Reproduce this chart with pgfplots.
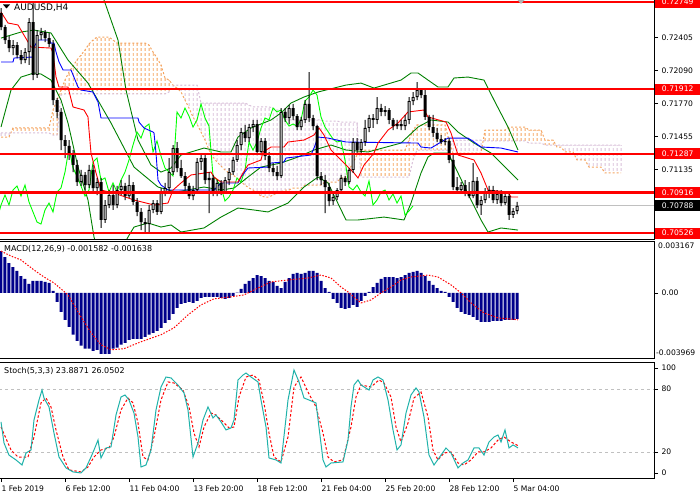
\documentclass[border=0pt]{standalone}
\usepackage{fontspec}
\setmainfont{DejaVu Sans}
\usepackage{pgfplots}
\pgfplotsset{compat=1.18}
\usepackage{pgfplotstable}
\usetikzlibrary{patterns.meta}

\definecolor{sandy}{RGB}{244,164,96}
\definecolor{thist}{RGB}{216,191,216}
\definecolor{bbgreen}{RGB}{0,128,0}
\definecolor{chik}{RGB}{0,255,0}
\definecolor{histnavy}{RGB}{0,0,139}
\definecolor{stteal}{RGB}{32,178,170}
\definecolor{pline}{RGB}{192,192,192}

% AUDUSD H4 candles: bar, open, high, low, close
\pgfplotstableread{
i o h l c
0 0.72643 0.72691 0.72479 0.72508
1 0.72508 0.72528 0.72345 0.72383
2 0.72383 0.72422 0.72268 0.72306
3 0.72306 0.72383 0.72239 0.72335
4 0.72335 0.72364 0.72210 0.72239
5 0.72239 0.72287 0.72152 0.72191
6 0.72191 0.72306 0.72162 0.72268
7 0.72268 0.72595 0.72143 0.72556
8 0.72556 0.72739 0.71998 0.72047
9 0.72047 0.72479 0.72018 0.72431
10 0.72431 0.72499 0.72383 0.72460
11 0.72460 0.72479 0.72364 0.72402
12 0.72402 0.72451 0.72316 0.72345
13 0.72345 0.72383 0.71758 0.71806
14 0.71806 0.71825 0.71633 0.71691
15 0.71691 0.71729 0.71325 0.71421
16 0.71421 0.71469 0.71248 0.71364
17 0.71364 0.71421 0.71229 0.71277
18 0.71277 0.71325 0.71113 0.71181
19 0.71181 0.71229 0.70979 0.71017
20 0.71017 0.71133 0.70979 0.71085
21 0.71085 0.71113 0.70940 0.70988
22 0.70988 0.71181 0.70959 0.71133
23 0.71133 0.71181 0.70911 0.70959
24 0.70959 0.71056 0.70892 0.71017
25 0.71017 0.71056 0.70575 0.70652
26 0.70652 0.70844 0.70623 0.70796
27 0.70796 0.70940 0.70767 0.70892
28 0.70892 0.70988 0.70748 0.70796
29 0.70796 0.70979 0.70767 0.70940
30 0.70940 0.71036 0.70892 0.70979
31 0.70979 0.71008 0.70844 0.70882
32 0.70882 0.71085 0.70863 0.70988
33 0.70988 0.71017 0.70796 0.70825
34 0.70825 0.70863 0.70690 0.70729
35 0.70729 0.70767 0.70555 0.70632
36 0.70632 0.70671 0.70536 0.70613
37 0.70613 0.70796 0.70527 0.70748
38 0.70748 0.70844 0.70719 0.70815
39 0.70815 0.70844 0.70700 0.70729
40 0.70729 0.70959 0.70709 0.70921
41 0.70921 0.71008 0.70882 0.70959
42 0.70959 0.71248 0.70921 0.71113
43 0.71113 0.71373 0.71085 0.71344
44 0.71344 0.71402 0.71113 0.71152
45 0.71152 0.71229 0.71056 0.71075
46 0.71075 0.71113 0.70940 0.70979
47 0.70979 0.71008 0.70854 0.70882
48 0.70882 0.70979 0.70844 0.70940
49 0.70940 0.71248 0.70902 0.71210
50 0.71210 0.71277 0.71133 0.71248
51 0.71248 0.71277 0.70998 0.71036
52 0.71036 0.71113 0.70719 0.71056
53 0.71056 0.71085 0.70882 0.70921
54 0.70921 0.71036 0.70882 0.71008
55 0.71008 0.71036 0.70892 0.70921
56 0.70921 0.71065 0.70902 0.71036
57 0.71036 0.71152 0.70988 0.71113
58 0.71113 0.71258 0.71085 0.71229
59 0.71229 0.71421 0.71210 0.71373
60 0.71373 0.71537 0.71325 0.71498
61 0.71498 0.71566 0.71402 0.71440
62 0.71440 0.71575 0.71402 0.71546
63 0.71546 0.71614 0.71498 0.71575
64 0.71575 0.71614 0.71277 0.71306
65 0.71306 0.71440 0.71277 0.71412
66 0.71412 0.71440 0.71229 0.71267
67 0.71267 0.71306 0.71113 0.71152
68 0.71152 0.71200 0.71075 0.71113
69 0.71113 0.71171 0.71036 0.71075
70 0.71075 0.71729 0.71056 0.71691
71 0.71691 0.71729 0.71594 0.71633
72 0.71633 0.71758 0.71575 0.71729
73 0.71729 0.71768 0.71614 0.71652
74 0.71652 0.71671 0.71517 0.71546
75 0.71546 0.71643 0.71517 0.71614
76 0.71614 0.71806 0.71585 0.71768
77 0.71768 0.72075 0.71594 0.71633
78 0.71633 0.71662 0.71517 0.71556
79 0.71556 0.71566 0.71036 0.71075
80 0.71075 0.71113 0.70988 0.71036
81 0.71036 0.71085 0.70719 0.70969
82 0.70969 0.71008 0.70786 0.70834
83 0.70834 0.70902 0.70796 0.70873
84 0.70873 0.70959 0.70844 0.70940
85 0.70940 0.71085 0.70911 0.71056
86 0.71056 0.71075 0.70979 0.71017
87 0.71017 0.71152 0.70998 0.71133
88 0.71133 0.71440 0.71104 0.71402
89 0.71402 0.71440 0.71296 0.71325
90 0.71325 0.71431 0.71296 0.71402
91 0.71402 0.71614 0.71364 0.71537
92 0.71537 0.71662 0.71498 0.71633
93 0.71633 0.71671 0.71537 0.71614
94 0.71614 0.71835 0.71575 0.71729
95 0.71729 0.71768 0.71652 0.71691
96 0.71691 0.71748 0.71652 0.71710
97 0.71710 0.71729 0.71575 0.71614
98 0.71614 0.71633 0.71517 0.71556
99 0.71556 0.71614 0.71527 0.71575
100 0.71575 0.71614 0.71517 0.71556
101 0.71556 0.71662 0.71517 0.71614
102 0.71614 0.71835 0.71575 0.71796
103 0.71796 0.71883 0.71758 0.71835
104 0.71835 0.71979 0.71806 0.71902
105 0.71902 0.71921 0.71825 0.71854
106 0.71854 0.71921 0.71614 0.71643
107 0.71643 0.71662 0.71517 0.71546
108 0.71546 0.71662 0.71450 0.71489
109 0.71489 0.71537 0.71402 0.71431
110 0.71431 0.71469 0.71383 0.71402
111 0.71402 0.71440 0.71373 0.71412
112 0.71412 0.71440 0.71200 0.71229
113 0.71229 0.71296 0.70940 0.70969
114 0.70969 0.71065 0.70911 0.70940
115 0.70940 0.71017 0.70902 0.70988
116 0.70988 0.71036 0.70882 0.70921
117 0.70921 0.71017 0.70863 0.70882
118 0.70882 0.71200 0.70863 0.71027
119 0.71027 0.71065 0.70767 0.70796
120 0.70796 0.70882 0.70700 0.70844
121 0.70844 0.70959 0.70815 0.70921
122 0.70921 0.70979 0.70863 0.70940
123 0.70940 0.70979 0.70815 0.70844
124 0.70844 0.70940 0.70806 0.70902
125 0.70902 0.70940 0.70786 0.70815
126 0.70815 0.70921 0.70796 0.70882
127 0.70882 0.70902 0.70652 0.70700
128 0.70700 0.70767 0.70671 0.70738
129 0.70738 0.70825 0.70709 0.70788
}\candles

% Ichimoku cloud: senkou span A (a) and B (b), shifted 26 bars ahead
\pgfplotstableread{
i a b
0 0.71450 0.71489
1 0.71450 0.71489
2 0.71450 0.71489
3 0.71537 0.71489
4 0.71537 0.71489
5 0.71537 0.71489
6 0.71537 0.71489
7 0.71537 0.71489
8 0.71537 0.71489
9 0.71537 0.71489
10 0.71537 0.71489
11 0.71537 0.71489
12 0.71537 0.71489
13 0.71710 0.71469
14 0.71806 0.71469
15 0.71902 0.71854
16 0.71998 0.71864
17 0.72075 0.71864
18 0.72133 0.71864
19 0.72191 0.71864
20 0.72239 0.71864
21 0.72287 0.71864
22 0.72345 0.71864
23 0.72383 0.71864
24 0.72412 0.71864
25 0.72412 0.71864
26 0.72412 0.71864
27 0.72412 0.71864
28 0.72383 0.71864
29 0.72354 0.71864
30 0.72354 0.71864
31 0.72354 0.71864
32 0.72354 0.71864
33 0.72354 0.71864
34 0.72354 0.71864
35 0.72354 0.71864
36 0.72354 0.71864
37 0.72335 0.71864
38 0.72268 0.71864
39 0.72210 0.71864
40 0.72143 0.71864
41 0.72018 0.71864
42 0.71998 0.71883
43 0.71950 0.71941
44 0.71921 0.71950
45 0.71883 0.71950
46 0.71806 0.71950
47 0.71729 0.71950
48 0.71643 0.71950
49 0.71575 0.71950
50 0.71498 0.71777
51 0.71421 0.71777
52 0.71325 0.71777
53 0.71258 0.71777
54 0.71210 0.71777
55 0.71171 0.71777
56 0.71133 0.71777
57 0.71104 0.71777
58 0.71085 0.71777
59 0.71056 0.71777
60 0.71017 0.71777
61 0.70988 0.71777
62 0.70959 0.71758
63 0.70940 0.71739
64 0.70911 0.71739
65 0.70882 0.71739
66 0.70873 0.71739
67 0.70873 0.71739
68 0.70892 0.71729
69 0.70911 0.71710
70 0.70921 0.71710
71 0.70940 0.71614
72 0.70940 0.71614
73 0.70959 0.71614
74 0.70959 0.71614
75 0.70959 0.71614
76 0.70988 0.71614
77 0.70988 0.71614
78 0.70988 0.71614
79 0.70988 0.71614
80 0.70988 0.71614
81 0.71017 0.71604
82 0.71017 0.71604
83 0.71017 0.71604
84 0.71017 0.71604
85 0.71056 0.71594
86 0.71056 0.71594
87 0.71133 0.71594
88 0.71200 0.71594
89 0.71277 0.71594
90 0.71325 0.71065
91 0.71325 0.71065
92 0.71325 0.71065
93 0.71325 0.71065
94 0.71325 0.71065
95 0.71325 0.71065
96 0.71325 0.71065
97 0.71325 0.71065
98 0.71325 0.71065
99 0.71325 0.71065
100 0.71325 0.71065
101 0.71325 0.71065
102 0.71421 0.71065
103 0.71517 0.71229
104 0.71566 0.71325
105 0.71566 0.71325
106 0.71566 0.71325
107 0.71566 0.71325
108 0.71566 0.71325
109 0.71566 0.71325
110 0.71566 0.71325
111 0.71566 0.71325
112 0.71421 0.71325
113 0.71296 0.71421
114 0.71296 0.71421
115 0.71296 0.71421
116 0.71296 0.71421
117 0.71296 0.71421
118 0.71296 0.71421
119 0.71296 0.71421
120 0.71296 0.71421
121 0.71517 0.71412
122 0.71517 0.71412
123 0.71517 0.71412
124 0.71517 0.71412
125 0.71517 0.71412
126 0.71517 0.71412
127 0.71546 0.71412
128 0.71546 0.71412
129 0.71546 0.71412
130 0.71546 0.71412
131 0.71546 0.71412
132 0.71517 0.71392
133 0.71517 0.71392
134 0.71517 0.71392
135 0.71517 0.71392
136 0.71421 0.71373
137 0.71421 0.71373
138 0.71421 0.71373
139 0.71354 0.71373
140 0.71354 0.71373
141 0.71306 0.71373
142 0.71306 0.71373
143 0.71306 0.71373
144 0.71229 0.71373
145 0.71229 0.71373
146 0.71229 0.71373
147 0.71161 0.71373
148 0.71161 0.71373
149 0.71161 0.71373
150 0.71161 0.71373
151 0.71104 0.71373
152 0.71104 0.71373
153 0.71104 0.71373
154 0.71104 0.71373
155 0.71104 0.71373
}\cloud

% MACD(12,26,9) histogram
\pgfplotstableread{
i m
0 0.00255
1 0.00219
2 0.00182
3 0.00158
4 0.00134
5 0.00103
6 0.00085
7 0.00055
8 0.00073
9 0.00073
10 0.00073
11 0.00067
12 0.00061
13 0.00012
14 -0.00055
15 -0.00116
16 -0.00164
17 -0.00207
18 -0.00255
19 -0.00292
20 -0.00322
21 -0.00340
22 -0.00340
23 -0.00353
24 -0.00347
25 -0.00371
26 -0.00371
27 -0.00371
28 -0.00340
29 -0.00334
30 -0.00316
31 -0.00304
32 -0.00286
33 -0.00280
34 -0.00280
35 -0.00280
36 -0.00268
37 -0.00255
38 -0.00243
39 -0.00231
40 -0.00213
41 -0.00182
42 -0.00164
43 -0.00128
44 -0.00091
45 -0.00067
46 -0.00061
47 -0.00055
48 -0.00061
49 -0.00049
50 -0.00030
51 -0.00024
52 -0.00024
53 -0.00024
54 -0.00024
55 -0.00030
56 -0.00036
57 -0.00030
58 -0.00018
59 0.00002
60 0.00024
61 0.00055
62 0.00073
63 0.00091
64 0.00109
65 0.00103
66 0.00091
67 0.00073
68 0.00067
69 0.00043
70 0.00030
71 0.00067
72 0.00091
73 0.00116
74 0.00122
75 0.00116
76 0.00122
77 0.00134
78 0.00134
79 0.00122
80 0.00073
81 0.00030
82 0.00006
83 -0.00036
84 -0.00061
85 -0.00091
86 -0.00097
87 -0.00091
88 -0.00073
89 -0.00085
90 -0.00049
91 -0.00018
92 0.00006
93 0.00036
94 0.00061
95 0.00085
96 0.00097
97 0.00097
98 0.00097
99 0.00091
100 0.00097
101 0.00109
102 0.00122
103 0.00128
104 0.00134
105 0.00122
106 0.00103
107 0.00073
108 0.00049
109 0.00030
110 0.00012
111 0.00006
112 -0.00024
113 -0.00055
114 -0.00091
115 -0.00116
116 -0.00128
117 -0.00134
118 -0.00146
119 -0.00164
120 -0.00176
121 -0.00176
122 -0.00176
123 -0.00170
124 -0.00170
125 -0.00170
126 -0.00164
127 -0.00164
128 -0.00164
129 -0.00158
}\macd

\begin{document}
\begin{tikzpicture}[x=1pt,y=1pt]
\useasboundingbox (0,0) rectangle (700,500);
\pgfplotsset{
  base/.style={scale only axis, width=655pt, xmin=-0.5, xmax=163.25,
    clip mode=individual, scaled y ticks=false},
  mt/.style={base, axis line style={black, line width=0.8pt},
    tick align=outside, major tick length=4pt,
    tick style={black, line width=0.8pt}, ytick pos=right,
    tick label style={font=\fontsize{7.6}{9}\selectfont, black}},
  pricearea/.style={at={(-1pt,261pt)}, anchor=south west, height=240pt,
    ymin=0.70469, ymax=0.72778},
  ovl/.style={base, pricearea, hide axis},
}
\tikzset{
  pbox/.style={anchor=west, xshift=1pt, minimum width=45pt, minimum height=11pt,
    inner sep=0pt, font=\fontsize{7.6}{9}\selectfont, text=white},
  dots/.style={pattern={Lines[angle=0, distance=5pt, line width=3pt]}},
}

% ---------- price panel ----------
% cloud hatch (stacked: invisible base up to the lower span, then the gap)
\begin{axis}[ovl, ybar stacked, bar width=1pt]
\addplot[draw=none, fill=none] table[x=i, y expr={min(\thisrow{a},\thisrow{b})}] {\cloud};
\addplot[draw=none, dots, pattern color=sandy]
  table[x=i, y expr={max(\thisrow{a}-\thisrow{b},0)}] {\cloud};
\addplot[draw=none, dots, pattern color=thist]
  table[x=i, y expr={max(\thisrow{b}-\thisrow{a},0)}] {\cloud};
\end{axis}

\begin{axis}[mt, pricearea, xtick=\empty,
  ytick={0.72405,0.72090,0.71770,0.71455,0.71135},
  yticklabels={0.72405,0.72090,0.71770,0.71455,0.71135}]
\addplot[pline, line width=0.8pt] coordinates {(-0.5,0.70788) (163.25,0.70788)};
\addplot[sandy, line width=1pt, dash pattern=on 2pt off 2pt] table[x=i, y=a] {\cloud};
\addplot[thist, line width=1pt, dash pattern=on 2pt off 2pt] table[x=i, y=b] {\cloud};

% Bollinger bands
\addplot[bbgreen, line width=0.9pt] coordinates {
(0,0.72864) (10,0.72883) (20,0.72912) (25,0.72816) (25.75,0.72768) (29.25,0.72383)
(31.25,0.71902) (34.25,0.71421) (37.5,0.71181) (40,0.71113) (42.5,0.71152) (45,0.71277)
(50.75,0.71344) (55,0.71306) (57.5,0.71306) (59.25,0.71450) (62.5,0.71537) (67.5,0.71614)
(70,0.71681) (72.5,0.71777) (75.75,0.71835) (79.25,0.71883) (84.25,0.71931) (86.25,0.71950)
(90,0.71969) (93.25,0.71921) (100,0.71998) (102.5,0.72066) (104.25,0.72066) (106.75,0.71998)
(109.25,0.71931) (111.75,0.71931) (113.25,0.72018) (116.75,0.72027) (120.75,0.71998)
(123.25,0.71806) (126.75,0.71546) (129.25,0.71325)};
\addplot[bbgreen, line width=0.9pt] coordinates {
(0,0.72402) (5,0.72460) (8.25,0.72479) (12.5,0.72451) (16.75,0.72191) (21.75,0.71969)
(27.5,0.71585) (33.25,0.71161) (39.25,0.70969) (43.75,0.70921) (50.75,0.70969) (55,0.70940)
(58.25,0.70959) (61.75,0.71065) (65,0.71161) (70,0.71200) (74.25,0.71258) (78.25,0.71325)
(82.5,0.71373) (86.25,0.71325) (91.75,0.71306) (100,0.71392) (104.25,0.71546) (107.5,0.71614)
(111.75,0.71594) (114.25,0.71498) (118.25,0.71392) (122.5,0.71296) (126.75,0.71133)
(129.25,0.71036)};
\addplot[bbgreen, line width=0.9pt] coordinates {
(0,0.71546) (2.5,0.71902) (5,0.72027) (8.25,0.72066) (10,0.72056) (12.5,0.71998)
(15,0.71806) (16.75,0.71585) (19.25,0.71161) (21.75,0.70844) (23.25,0.70488) (25,0.70248)
(28.25,0.70190) (30,0.70363) (31.75,0.70488) (33.25,0.70584) (36.75,0.70623) (40,0.70584)
(42.5,0.70604) (45,0.70536) (50.75,0.70575) (55,0.70680) (59.25,0.70767) (63.25,0.70748)
(66.75,0.70729) (71.75,0.70815) (75.75,0.70969) (79.25,0.71065) (81.75,0.71008)
(86.25,0.70652) (89.25,0.70652) (95.75,0.70680) (100.75,0.70652) (102.5,0.70815)
(105,0.71104) (106.75,0.71258) (108.25,0.71296) (111.75,0.71296) (114.25,0.71104)
(117.5,0.70844) (120,0.70652) (121.75,0.70536) (125,0.70575) (129.25,0.70555)};

% chikou span: close shifted back 26 bars
\addplot[chik, line width=0.9pt] table[x expr=\thisrow{i}-26, y=c] {\candles};

% kijun-sen
\addplot[blue, line width=0.9pt] coordinates {
(0,0.72172) (3,0.72172) (3.25,0.72210) (8,0.72220) (8.25,0.72316) (9.25,0.72383)
(12,0.72383) (12.5,0.72354) (13.25,0.72354) (13.75,0.72268) (14.5,0.72172) (15.5,0.72095)
(17.5,0.72095) (19.25,0.71931) (20,0.71902) (23,0.71883) (24.25,0.71787) (25,0.71633)
(34.25,0.71633) (34.5,0.71594) (35.75,0.71537) (38,0.71498) (38.25,0.71489) (38.75,0.71296)
(39.25,0.71036) (40,0.70988) (41.75,0.70940) (53.25,0.70940) (55,0.71008) (59.25,0.71008)
(60,0.71065) (61.75,0.71152) (66.75,0.71161) (67.5,0.71200) (70.75,0.71210) (71.25,0.71248)
(77.5,0.71277) (78.25,0.71344) (79.25,0.71450) (81.75,0.71440) (86.25,0.71402)
(104.25,0.71392) (105,0.71354) (107.5,0.71344) (110,0.71402) (111.75,0.71440)
(116.75,0.71440) (118.25,0.71402) (120,0.71354) (125,0.71344) (129.25,0.71306)};
% tenkan-sen
\addplot[red, line width=0.9pt] coordinates {
(0,0.72653) (1.75,0.72547) (4.25,0.72528) (5,0.72479) (7.5,0.72316) (12.5,0.72306)
(13,0.72258) (13.75,0.72027) (14.5,0.71931) (16.75,0.71931) (18,0.71739) (20.75,0.71710)
(21.75,0.71643) (22,0.71517) (22.5,0.71296) (23.75,0.71104) (25,0.70940) (28.25,0.70911)
(33.25,0.70844) (38.25,0.70796) (41.75,0.70815) (43,0.70940) (45,0.71008) (47.5,0.71085)
(52.5,0.71113) (53.25,0.71065) (55,0.71017) (59.25,0.71017) (60.5,0.71104) (61.75,0.71181)
(65,0.71229) (65.5,0.71306) (67.5,0.71354) (70.75,0.71354) (71.75,0.71402) (75.75,0.71421)
(78.25,0.71469) (79.5,0.71537) (80.75,0.71469) (82.5,0.71325) (85,0.71229) (86.75,0.71161)
(88.25,0.71104) (89.25,0.71056) (90.75,0.71181) (93.25,0.71296) (94.25,0.71392)
(96.75,0.71517) (99.25,0.71585) (101.75,0.71691) (105.75,0.71710) (106.75,0.71643)
(111.25,0.71594) (112.5,0.71489) (114.25,0.71277) (118.25,0.71229) (120,0.71104)
(121.75,0.70940) (126.75,0.70921) (127.5,0.70873) (129.25,0.70873)};
\end{axis}

% candle wicks
\begin{axis}[ovl, ybar stacked, bar width=1pt]
\addplot[draw=none, fill=none] table[x=i, y=l] {\candles};
\addplot[draw=none, fill=black] table[x=i, y expr={\thisrow{h}-\thisrow{l}}] {\candles};
\end{axis}
% candle bodies
\begin{axis}[ovl, ybar stacked, bar width=3pt]
\addplot[draw=none, fill=none] table[x=i, y expr={min(\thisrow{o},\thisrow{c})}] {\candles};
\addplot[draw=none, fill=black]
  table[x=i, y expr={max(abs(\thisrow{c}-\thisrow{o}),0.0001)}] {\candles};
\end{axis}
% hollow inside of rising candles
\begin{axis}[ovl, ybar stacked, bar width=1pt]
\addplot[draw=none, fill=none] table[x=i, y expr={\thisrow{o}+0.0001}] {\candles};
\addplot[draw=none, fill=white]
  table[x=i, y expr={max(\thisrow{c}-\thisrow{o}-0.0002,0)}] {\candles};
\end{axis}

% horizontal levels and price boxes
\begin{axis}[ovl]
\addplot[red, line width=2.8pt] coordinates {(-0.5,0.72749) (163.25,0.72749)};
\addplot[red, line width=2.8pt] coordinates {(-0.5,0.71912) (163.25,0.71912)};
\addplot[red, line width=2.8pt] coordinates {(-0.5,0.71287) (163.25,0.71287)};
\addplot[red, line width=2.8pt] coordinates {(-0.5,0.70916) (163.25,0.70916)};
\addplot[red, line width=2.8pt] coordinates {(-0.5,0.70526) (163.25,0.70526)};
\node[pbox, fill=red] at (axis cs:163.25,0.72749) {0.72749};
\node[pbox, fill=red] at (axis cs:163.25,0.71912) {0.71912};
\node[pbox, fill=red] at (axis cs:163.25,0.71287) {0.71287};
\node[pbox, fill=red] at (axis cs:163.25,0.70916) {0.70916};
\node[pbox, fill=black] at (axis cs:163.25,0.70788) {0.70788};
\node[pbox, fill=red] at (axis cs:163.25,0.70526) {0.70526};
\end{axis}

% ---------- MACD panel ----------
\begin{axis}[mt, at={(-1pt,259pt)}, anchor=north west, height=117pt,
  ymin=-0.003969, ymax=0.003167, xtick=\empty, ytick={0}, yticklabels={0.00}]
\addplot[ybar, bar width=3pt, fill=histnavy, draw=none] table[x=i, y=m] {\macd};
\addplot[red, line width=1pt, dash pattern=on 1.5pt off 1.5pt] coordinates {
(0,0.00255) (2.5,0.00225) (5,0.00201) (8.25,0.00140) (10.75,0.00097) (13.25,0.00061)
(16.75,-0.00012) (20,-0.00146) (22.5,-0.00243) (25,-0.00316) (27.5,-0.00347)
(30.75,-0.00340) (35,-0.00298) (40,-0.00255) (43.25,-0.00213) (46.75,-0.00134)
(50,-0.00073) (53.25,-0.00036) (57.5,-0.00024) (60.75,-0.00012) (64.25,0.00030)
(67.5,0.00067) (71.75,0.00079) (76.75,0.00091) (80,0.00109) (82.5,0.00091) (85,0.00036)
(86.75,0.00006) (88.75,-0.00036) (90,-0.00061) (92.5,-0.00043) (95,0) (97.5,0.00036)
(100,0.00079) (102.5,0.00097) (106.75,0.00109) (109.25,0.00097) (112.5,0.00049) (115,0)
(117.5,-0.00061) (120.75,-0.00122) (124.25,-0.00152) (129.25,-0.00164)};
\node[anchor=north west, inner sep=0pt, xshift=4pt, yshift=-2pt,
  font=\fontsize{7.6}{9}\selectfont] at (rel axis cs:1,1) {0.003167};
\node[anchor=south west, inner sep=0pt, xshift=2pt, yshift=2pt,
  font=\fontsize{7.6}{9}\selectfont] at (rel axis cs:1,0) {-0.003969};
\end{axis}

% ---------- Stochastic panel ----------
\begin{axis}[mt, at={(-1pt,138pt)}, anchor=north west, height=116pt,
  ymin=-4.8, ymax=105.7, ytick={0,20,80,100}, yticklabels={0,20,80,100},
  xtick={0,16,32,48,64,80,96,112,128}, xtick pos=bottom,
  xticklabels={1 Feb 2019,6 Feb 12:00,11 Feb 04:00,13 Feb 20:00,18 Feb 12:00,
    21 Feb 04:00,25 Feb 20:00,28 Feb 12:00,5 Mar 04:00},
  xticklabel style={anchor=north west, xshift=-3pt}]
\addplot[pline, line width=0.8pt, dash pattern=on 3pt off 3pt] coordinates {(-0.5,80) (163.25,80)};
\addplot[pline, line width=0.8pt, dash pattern=on 3pt off 3pt] coordinates {(-0.5,20) (163.25,20)};
\addplot[red, line width=1pt, dash pattern=on 2.5pt off 2pt] coordinates {
(0,43.8) (2.5,21.9) (4.25,15.2) (6.75,15.2) (8.25,34.3) (10,66.7) (11.25,71.4) (12.5,62.9)
(13.75,41) (15.5,15.2) (17,2.9) (20,1) (21.75,5.7) (23.25,15.2) (25,21.9) (27,23.8)
(28.25,34.3) (30,60) (31.75,71.4) (33,66.7) (34.25,47.6) (35.5,15.2) (36.75,12.4)
(38.25,34.3) (40,69.5) (41.75,86.7) (43.25,85.7) (45.5,79) (47,62.9) (48.25,38) (49.5,24.8)
(50.75,43.8) (52.5,57.1) (53.75,55.2) (55.5,48.6) (57,42.9) (58.25,43.8) (59.5,72.4)
(61.25,91.4) (63,93.3) (64.5,88.6) (65.75,66.7) (67,38) (68.25,15.2) (70,10.5) (71.75,34.3)
(73.25,81.9) (75,91.4) (76.75,77.1) (78.75,62.9) (80.5,38) (81.75,15.2) (83.25,10.5)
(85.5,12.4) (87.5,43.8) (88.75,72.4) (90,83.8) (92.5,81.9) (94.5,88.6) (95.75,85.7)
(97.5,72.4) (98.75,43.8) (100,29.5) (101.75,47.6) (103.25,71.4) (105,77.1) (106.75,53.3)
(108,21.9) (109.25,12.4) (110.75,19) (112.5,20) (114.25,9.5) (115.75,7.6) (117.5,12.4)
(119.25,20) (120.75,20) (122.5,23.8) (124.25,31.4) (125.75,34.3) (127.5,29.5) (129.25,26.05)};
\addplot[stteal, line width=1pt] coordinates {
(0,48.6) (0.75,28.6) (2,17) (3.75,12.4) (5.25,7.6) (6.25,19) (7.5,21.9) (8.25,50.5)
(9.5,69.5) (10.25,79) (10.75,71.4) (12,62.9) (13.25,38) (14.5,15.2) (16.25,4.8) (18,1)
(20,0) (21.25,4.8) (22.5,15.2) (23.25,21.9) (24.25,31.4) (25,14.3) (26.25,23.8) (27.5,24.8)
(28.75,55.2) (30,72.4) (31,74.3) (32,69.5) (33.25,57) (34.25,34.3) (35,5.7) (36.25,7.6)
(37.5,21.9) (38.75,60) (40,81.9) (41.25,91.4) (42.5,90.5) (44.25,83.8) (45.75,76.2)
(46.75,60) (48,15.2) (49.25,28.6) (50.5,50.5) (51.75,62.9) (53,52.4) (53.75,55.2) (55,48.6)
(56.25,41) (57.5,42.9) (58.25,50.5) (59.25,88.6) (60.5,93.3) (61.25,95.2) (62.5,91.4)
(64.25,86.7) (65,69.5) (66.25,43.8) (67,14.3) (68.75,12.4) (70,9.5) (71.75,69.5)
(73.25,98.1) (74.5,86.7) (75.75,71.4) (77,69.5) (78.75,66.7) (80.5,12.4) (81.25,5.7)
(82.5,9.5) (85.5,10.5) (86.75,31.4) (87.5,62.9) (88.25,83.8) (89.25,88.6) (90,83.8) (92,79)
(93,88.6) (94.25,91.4) (95.5,88.6) (96.75,69.5) (98,41) (99,21.9) (100,26.7) (101.25,57.1)
(102.5,74.3) (103.75,81) (104.5,77.1) (105.75,53.3) (107,17.1) (108.25,7.6) (109.5,14.3)
(111.25,23.8) (112.5,19) (114.25,4.8) (115.5,9.5) (116.75,12.4) (118.25,23.8) (119.5,23.8)
(120.75,17.1) (122,29.5) (123.25,34.3) (124.25,36.2) (125,29.5) (126,41) (127,23.8)
(128,26.7) (129.25,23.89)};
\end{axis}

% panel captions and marker
\fill[black] (3,495.5) -- (10,495.5) -- (6.5,491.5) -- cycle;
\node[anchor=west, inner sep=0pt, font=\fontsize{9}{10}\selectfont] at (14,492.5) {AUDUSD,H4};
\node[anchor=west, inner sep=0pt, font=\fontsize{8}{9}\selectfont] at (4,251) {MACD(12,26,9) -0.001582 -0.001638};
\node[anchor=west, inner sep=0pt, font=\fontsize{8}{9}\selectfont] at (4,129) {Stoch(5,3,3) 23.8871 26.0502};
\fill[gray!60] (517.5,500) -- (524.5,500) -- (521,496) -- cycle;
\end{tikzpicture}
\end{document}
